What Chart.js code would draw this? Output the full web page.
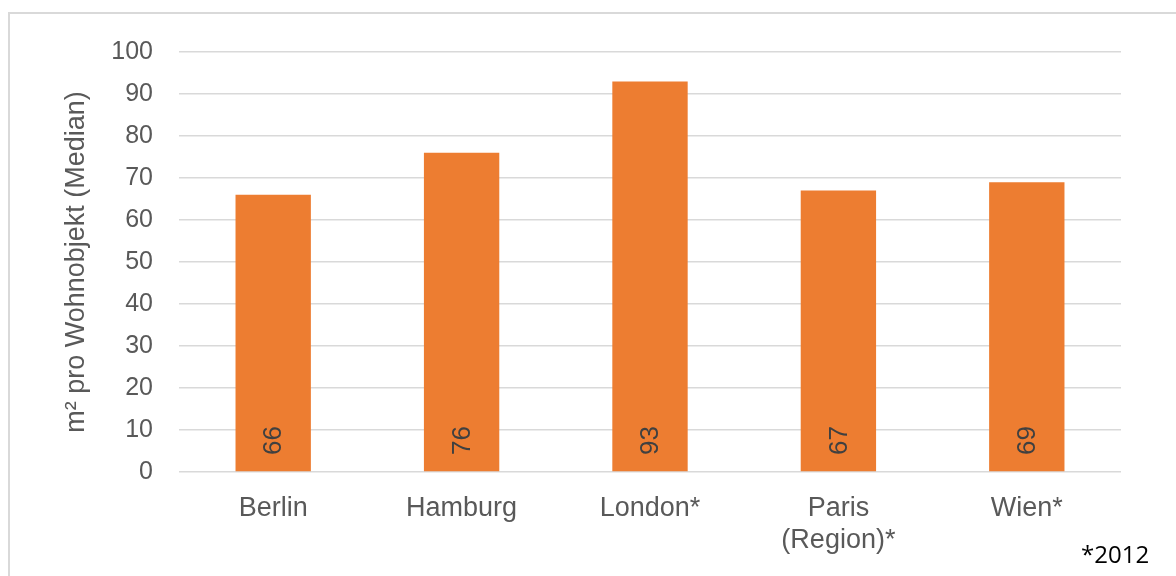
<!DOCTYPE html>
<html>
<head>
    <meta charset="utf-8">
    <title>Wohnfläche pro Wohnobjekt</title>
    <style>
        body { margin: 0; background: #fff; overflow: hidden; }
        #frame {
            position: absolute; left: 8px; top: 12px;
            width: 1400px; height: 800px;
            border: 2px solid #d9d9d9;
        }
        #wrap { position: absolute; left: 0; top: 0; width: 1176px; height: 576px; }
        #note {
            position: absolute; left: 1081px; top: 537px;
            font-family: "Open Sans", sans-serif; font-size: 24px; color: #000;
        }
    </style>
</head>
<body>
<div id="frame"></div>
<div id="wrap">
    <canvas id="flaecheChart" width="1176" height="576"></canvas>
</div>
<div id="note">*2012</div>

<script src="https://cdn.jsdelivr.net/npm/chart.js"></script>
<script>
    const cities = ['Berlin', 'Hamburg', 'London*', ['Paris', '(Region)*'], 'Wien*'];
    const medianM2 = [66, 76, 93, 67, 69];
    const yTicks = [0, 10, 20, 30, 40, 50, 60, 70, 80, 90, 100];

    const grey = '#595959';
    const sans = '"Liberation Sans", Arial, sans-serif';

    // value printed upright inside the foot of each bar
    const barValues = {
        id: 'barValues',
        afterDatasetsDraw(chart) {
            const ctx = chart.ctx;
            const meta = chart.getDatasetMeta(0);
            const base = chart.scales.y.getPixelForValue(0);
            ctx.save();
            ctx.fillStyle = '#404040';
            ctx.font = '26px ' + sans;
            ctx.textAlign = 'left';
            ctx.textBaseline = 'middle';
            meta.data.forEach((bar, i) => {
                ctx.save();
                ctx.translate(bar.x + 1, base - 17);
                ctx.rotate(-Math.PI / 2);
                ctx.fillText(String(medianM2[i]), 0, 0);
                ctx.restore();
            });
            ctx.restore();
        }
    };

    new Chart(document.getElementById('flaecheChart'), {
        type: 'bar',
        data: {
            labels: cities,
            datasets: [{
                data: medianM2,
                backgroundColor: '#ED7D31',
                barPercentage: 0.4,
                categoryPercentage: 1.0
            }]
        },
        options: {
            responsive: false,
            animation: false,
            layout: { padding: { left: 60, right: 55, top: 52, bottom: 0 } },
            plugins: {
                legend: { display: false },
                tooltip: { enabled: false }
            },
            scales: {
                x: {
                    grid: { display: false },
                    border: { display: false },
                    ticks: {
                        color: grey,
                        font: { family: sans, size: 27, lineHeight: 1.2 },
                        padding: 12,
                        maxRotation: 0,
                        autoSkip: false
                    },
                    afterFit(scale) { scale.height = 104; }
                },
                y: {
                    min: 0,
                    max: 100,
                    afterBuildTicks(scale) { scale.ticks = yTicks.map(v => ({ value: v })); },
                    grid: { color: '#d9d9d9', lineWidth: 1.5, drawTicks: false },
                    border: { display: false },
                    ticks: {
                        color: grey,
                        font: { family: sans, size: 25 },
                        padding: 26
                    },
                    title: {
                        display: true,
                        text: 'm² pro Wohnobjekt (Median)',
                        color: grey,
                        font: { family: sans, size: 27, lineHeight: 1.2 },
                        padding: { top: 0, bottom: 0 }
                    },
                    afterFit(scale) { scale.width = 119; }
                }
            }
        },
        plugins: [barValues]
    });
</script>
</body>
</html>
